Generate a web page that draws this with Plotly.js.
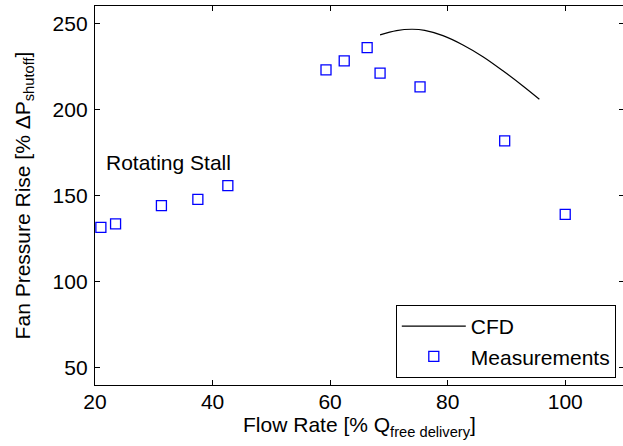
<!DOCTYPE html>
<html>
<head>
<meta charset="utf-8">
<script src="https://cdn.plot.ly/plotly-3.0.1.min.js"></script>
<style>
html, body { margin: 0; padding: 0; overflow: hidden; background: #fff; }
#chart { width: 625px; height: 446px; }
</style>
</head>
<body>
<div id="chart"></div>
<script>
// CFD curve (flow rate %, pressure rise %)
var cfdFlow = [68.5, 71.3, 73.9, 76.1, 79.2, 82.6, 86.0, 89.4, 92.8, 95.6];
var cfdPressure = [243.2, 245.7, 246.5, 245.9, 242.8, 237.4, 230.6, 222.4, 213.6, 205.9];

// Measurements
var measFlow = [21.0, 23.5, 31.3, 37.5, 42.6, 59.3, 62.4, 66.3, 68.5, 75.3, 89.7, 100.0];
var measPressure = [131.5, 133.5, 144.1, 147.8, 155.7, 222.9, 228.1, 235.8, 221.0, 213.0, 181.7, 139.0];

var xTicks = [20, 40, 60, 80, 100];
var yTicks = [50, 100, 150, 200, 250];

var fontFam = 'Liberation Sans, Arial, sans-serif';
var fs = 21;

var traces = [
  {
    x: cfdFlow, y: cfdPressure, type: 'scatter', mode: 'lines', name: 'CFD',
    line: { color: '#000000', width: 1.2, shape: 'spline', smoothing: 1 }
  },
  {
    x: measFlow, y: measPressure, type: 'scatter', mode: 'markers', name: 'Measurements',
    marker: { symbol: 'square-open', size: 10, color: '#0000ff', line: { color: '#0000ff', width: 1.3 } }
  }
];

var axisCommon = {
  showline: true, mirror: 'ticks', linecolor: '#000', linewidth: 1.2,
  ticks: 'inside', ticklen: 5, tickwidth: 1, tickcolor: '#000',
  showgrid: false, zeroline: false,
  tickfont: { family: fontFam, size: fs, color: '#000' },
  automargin: false
};

var layout = {
  width: 625, height: 446,
  margin: { l: 95, r: 1, t: 6, b: 61 },
  paper_bgcolor: '#fff', plot_bgcolor: '#fff',
  font: { family: fontFam, size: fs, color: '#000' },
  showlegend: true,
  xaxis: Object.assign({}, axisCommon, {
    range: [20, 110], tickvals: xTicks, ticktext: xTicks.map(String),
    ticklabelstandoff: -2,
    title: { text: 'Flow Rate [% Q<sub>free delivery</sub>]', font: { family: fontFam, size: fs, color: '#000' }, standoff: 0 }
  }),
  yaxis: Object.assign({}, axisCommon, {
    range: [40, 260], tickvals: yTicks, ticktext: yTicks.map(String),
    ticklabelstandoff: 2,
    title: { text: 'Fan Pressure Rise [% ΔP<sub>shutoff</sub>]', font: { family: fontFam, size: fs, color: '#000' }, standoff: 16 }
  }),
  legend: {
    x: 0.9845, y: 0.0185, xanchor: 'right', yanchor: 'bottom',
    bgcolor: '#fff', bordercolor: '#000', borderwidth: 1,
    font: { family: fontFam, size: fs, color: '#000' },
    tracegroupgap: 0, entrywidth: 190, entrywidthmode: 'pixels',
    itemwidth: 64
  },
  annotations: [
    {
      x: 21.5, y: 168.9, xref: 'x', yref: 'y', xanchor: 'left', yanchor: 'middle',
      text: 'Rotating Stall', showarrow: false,
      font: { family: fontFam, size: fs, color: '#000' }
    }
  ]
};

Plotly.newPlot('chart', traces, layout, { displayModeBar: false, staticPlot: true });
</script>
</body>
</html>
